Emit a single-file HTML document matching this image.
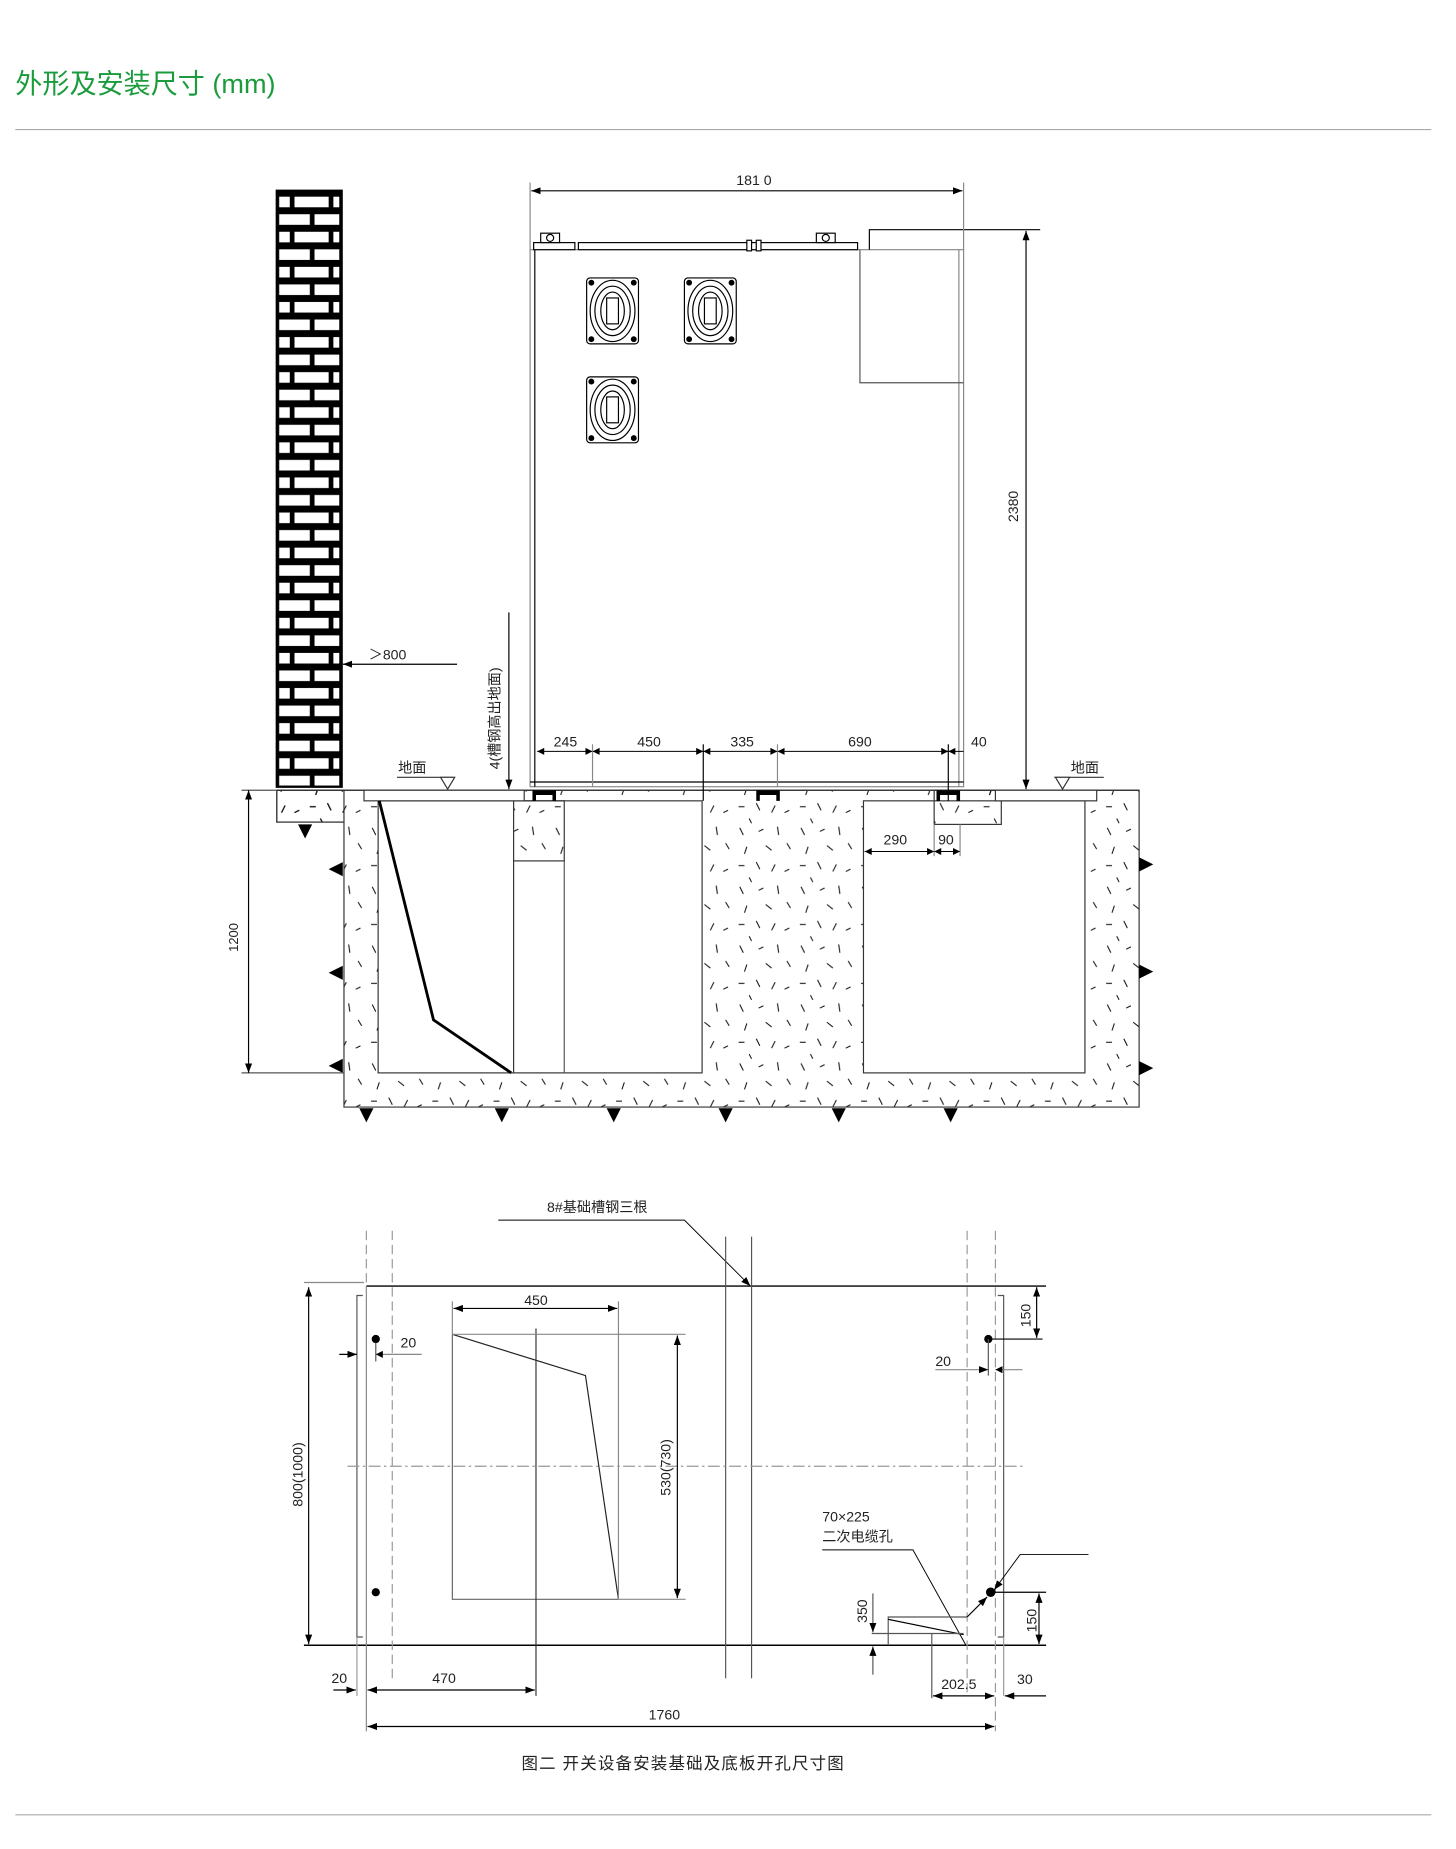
<!DOCTYPE html>
<html><head><meta charset="utf-8"><style>
html,body{margin:0;padding:0;background:#fff;}
svg{display:block;}
text{font-family:"Liberation Sans","Noto Sans CJK SC",sans-serif;fill:#222;}
</style></head><body>
<svg width="1456" height="1849" viewBox="0 0 1236 1570" preserveAspectRatio="none" xmlns="http://www.w3.org/2000/svg">
<defs>
<pattern id="brick" x="235" y="162" width="55" height="29.8" patternUnits="userSpaceOnUse">
<rect width="55" height="29.8" fill="#000"/>
<rect x="2" y="5" width="9" height="9" fill="#fff"/>
<rect x="15" y="5" width="29" height="9" fill="#fff"/>
<rect x="48" y="5" width="5" height="9" fill="#fff"/>
<rect x="2" y="19.9" width="26" height="9" fill="#fff"/>
<rect x="32" y="19.9" width="21" height="9" fill="#fff"/>
</pattern>
<pattern id="conc" x="0" y="0" width="52" height="50" patternUnits="userSpaceOnUse">
<g stroke="#111" stroke-width="0.9">
<line x1="4" y1="3" x2="7" y2="9"/><line x1="20" y1="6" x2="24" y2="4"/><line x1="36" y1="2" x2="37" y2="9"/>
<line x1="44" y1="16" x2="47" y2="21"/><line x1="10" y1="19" x2="8" y2="25"/><line x1="26" y1="18" x2="31" y2="22"/>
<line x1="3" y1="35" x2="8" y2="35"/><line x1="18" y1="32" x2="21" y2="38"/><line x1="34" y1="34" x2="31" y2="40"/>
<line x1="42" y1="40" x2="46" y2="38"/><line x1="12" y1="45" x2="14" y2="49"/>
</g></pattern>
<marker id="ar" markerWidth="8" markerHeight="6" refX="8" refY="3" orient="auto-start-reverse" markerUnits="userSpaceOnUse"><path d="M0,0 L8,3 L0,6 z" fill="#000"/></marker>
</defs>

<text x="13" y="79" font-size="23" style="fill:#1a9b3c">外形及安装尺寸 (mm)</text>
<line x1="13" y1="110" x2="1215" y2="110" stroke="#aaa" stroke-width="1"/>
<line x1="13" y1="1541" x2="1215" y2="1541" stroke="#aaa" stroke-width="1"/>

<rect x="235" y="162" width="55" height="506" fill="url(#brick)"/>
<rect x="235" y="162" width="55" height="506" fill="none" stroke="#000" stroke-width="2"/>

<path d="M235,671 H967 V940 H292 V698 H235 Z" fill="url(#conc)" stroke="#333" stroke-width="1"/>
<rect x="321" y="680" width="275" height="231" fill="#fff" stroke="#333"/>
<rect x="733" y="680" width="188" height="231" fill="#fff" stroke="#333"/>
<rect x="436" y="680" width="43" height="51" fill="url(#conc)" stroke="#333"/>
<line x1="436" y1="731" x2="436" y2="911" stroke="#333"/>
<line x1="479" y1="731" x2="479" y2="911" stroke="#555"/>
<rect x="793" y="671" width="57" height="29" fill="url(#conc)" stroke="#333"/>
<rect x="235" y="671" width="57" height="27" fill="url(#conc)" stroke="#333"/>
<line x1="235" y1="671" x2="967" y2="671" stroke="#333"/>
<rect x="309" y="671" width="136" height="9" fill="#fff" stroke="#333"/>
<rect x="845" y="671" width="86" height="9" fill="#fff" stroke="#333"/>
<polyline points="322,680 368,866 434,911" fill="none" stroke="#000" stroke-width="2.4"/>
<g fill="#000">
<path d="M452,671 h20 v9 h-3 v-5 h-14 v5 h-3z"/>
<path d="M642,671 h20 v9 h-3 v-5 h-14 v5 h-3z"/>
<path d="M795,671 h20 v9 h-3 v-5 h-14 v5 h-3z"/>
</g>
<g fill="#000">
<path d="M253,700 h12 l-6,12z"/>
<path d="M305,941 h12 l-6,12z"/><path d="M420,941 h12 l-6,12z"/><path d="M515,941 h12 l-6,12z"/>
<path d="M610,941 h12 l-6,12z"/><path d="M706,941 h12 l-6,12z"/><path d="M801,941 h12 l-6,12z"/>
<path d="M291,732 v12 l-12,-6z"/><path d="M291,820 v12 l-12,-6z"/><path d="M291,899 v12 l-12,-6z"/>
<path d="M967,728 v12 l12,-6z"/><path d="M967,819 v12 l12,-6z"/><path d="M967,901 v12 l12,-6z"/>
</g>
<line x1="337" y1="660" x2="385" y2="660" stroke="#333"/>
<path d="M374,660 h12 l-6,10z" fill="#fff" stroke="#333"/>
<text x="338" y="656" font-size="12">地面</text>
<line x1="895" y1="660" x2="937" y2="660" stroke="#333"/>
<path d="M896,660 h12 l-6,10z" fill="#fff" stroke="#333"/>
<text x="909" y="656" font-size="12">地面</text>

<line x1="205" y1="671" x2="235" y2="671" stroke="#555"/>
<line x1="205" y1="911" x2="292" y2="911" stroke="#555"/>
<line x1="211" y1="671" x2="211" y2="911" stroke="#000" marker-start="url(#ar)" marker-end="url(#ar)"/>
<text x="202" y="796" font-size="11" transform="rotate(-90 202 796)" text-anchor="middle">1200</text>

<rect x="450" y="212" width="368" height="456" fill="#fff" stroke="#888"/>
<line x1="454" y1="212" x2="454" y2="668" stroke="#000"/>
<line x1="814" y1="212" x2="814" y2="668" stroke="#888"/>
<line x1="450" y1="664" x2="818" y2="664" stroke="#000"/>
<rect x="453" y="206" width="35" height="6" fill="#fff" stroke="#000"/>
<rect x="459" y="198" width="16" height="8" fill="#fff" stroke="#000"/><circle cx="467" cy="202" r="3" fill="none" stroke="#000"/>
<rect x="491" y="206" width="237" height="6" fill="#fff" stroke="#000"/>
<rect x="693" y="198" width="16" height="8" fill="#fff" stroke="#000"/><circle cx="701" cy="202" r="3" fill="none" stroke="#000"/>
<rect x="634" y="204" width="4" height="9" fill="#fff" stroke="#000"/><rect x="642" y="204" width="4" height="9" fill="#fff" stroke="#000"/>
<polyline points="738,212 738,195 883,195" fill="none" stroke="#000"/>
<polyline points="730,212 730,325 818,325" fill="none" stroke="#555"/>
<g fill="none" stroke="#000">
<g transform="translate(498,236)"><rect width="44" height="56" rx="3"/><ellipse cx="22" cy="28" rx="19" ry="26"/><ellipse cx="22" cy="28" rx="15" ry="21"/><ellipse cx="22" cy="28" rx="10" ry="16"/><rect x="17" y="17" width="10" height="22"/><circle cx="4" cy="4" r="2" fill="#000"/><circle cx="40" cy="4" r="2" fill="#000"/><circle cx="4" cy="52" r="2" fill="#000"/><circle cx="40" cy="52" r="2" fill="#000"/></g>
<g transform="translate(581,236)"><rect width="44" height="56" rx="3"/><ellipse cx="22" cy="28" rx="19" ry="26"/><ellipse cx="22" cy="28" rx="15" ry="21"/><ellipse cx="22" cy="28" rx="10" ry="16"/><rect x="17" y="17" width="10" height="22"/><circle cx="4" cy="4" r="2" fill="#000"/><circle cx="40" cy="4" r="2" fill="#000"/><circle cx="4" cy="52" r="2" fill="#000"/><circle cx="40" cy="52" r="2" fill="#000"/></g>
<g transform="translate(498,320)"><rect width="44" height="56" rx="3"/><ellipse cx="22" cy="28" rx="19" ry="26"/><ellipse cx="22" cy="28" rx="15" ry="21"/><ellipse cx="22" cy="28" rx="10" ry="16"/><rect x="17" y="17" width="10" height="22"/><circle cx="4" cy="4" r="2" fill="#000"/><circle cx="40" cy="4" r="2" fill="#000"/><circle cx="4" cy="52" r="2" fill="#000"/><circle cx="40" cy="52" r="2" fill="#000"/></g>
</g>
<line x1="450" y1="155" x2="450" y2="212" stroke="#888"/>
<line x1="818" y1="155" x2="818" y2="212" stroke="#888"/>
<line x1="451" y1="162" x2="817" y2="162" stroke="#000" marker-start="url(#ar)" marker-end="url(#ar)"/>
<text x="640" y="157" font-size="12" text-anchor="middle">181  0</text>
<line x1="871" y1="196" x2="871" y2="670" stroke="#000" marker-start="url(#ar)" marker-end="url(#ar)"/>
<text x="864" y="430" font-size="12" transform="rotate(-90 864 430)" text-anchor="middle">2380</text>
<line x1="291" y1="564" x2="388" y2="564" stroke="#000" marker-start="url(#ar)"/>
<text x="313" y="560" font-size="12">＞800</text>
<line x1="432" y1="520" x2="432" y2="670" stroke="#000" marker-end="url(#ar)"/>
<text x="424" y="610" font-size="12" transform="rotate(-90 424 610)" text-anchor="middle">4(槽钢高出地面)</text>
<g stroke="#000">
<line x1="456" y1="638" x2="818" y2="638" stroke-width="0.8"/>
<line x1="503" y1="632" x2="503" y2="668" stroke="#888"/>
<line x1="597" y1="632" x2="597" y2="680" stroke="#000"/>
<line x1="660" y1="632" x2="660" y2="668" stroke="#888"/>
<line x1="805" y1="632" x2="805" y2="680" stroke="#000"/>
</g>
<g fill="#000">
<path d="M456,638 l6,-3 v6z"/><path d="M503,638 l-6,-3 v6z"/><path d="M503,638 l6,-3 v6z"/>
<path d="M597,638 l-6,-3 v6z"/><path d="M597,638 l6,-3 v6z"/><path d="M660,638 l-6,-3 v6z"/><path d="M660,638 l6,-3 v6z"/>
<path d="M805,638 l-6,-3 v6z"/><path d="M805,638 l6,-3 v6z"/>
</g>
<text x="480" y="634" font-size="12" text-anchor="middle">245</text>
<text x="551" y="634" font-size="12" text-anchor="middle">450</text>
<text x="630" y="634" font-size="12" text-anchor="middle">335</text>
<text x="730" y="634" font-size="12" text-anchor="middle">690</text>
<text x="831" y="634" font-size="12" text-anchor="middle">40</text>
<line x1="734" y1="723" x2="815" y2="723" stroke="#000" stroke-width="0.8"/>
<line x1="793" y1="700" x2="793" y2="727" stroke="#888"/><line x1="815" y1="700" x2="815" y2="727" stroke="#888"/>
<g fill="#000"><path d="M734,723 l6,-3 v6z"/><path d="M793,723 l-6,-3 v6z"/><path d="M793,723 l6,-3 v6z"/><path d="M815,723 l-6,-3 v6z"/></g>
<text x="760" y="717" font-size="12" text-anchor="middle">290</text>
<text x="803" y="717" font-size="12" text-anchor="middle">90</text>

<text x="507" y="1029" font-size="12" text-anchor="middle">8#基础槽钢三根</text>
<polyline points="423,1036 581,1036 637,1092" fill="none" stroke="#000" stroke-width="0.8" marker-end="url(#ar)"/>
<line x1="311" y1="1092" x2="888" y2="1092" stroke="#000" stroke-width="1.2"/>
<line x1="258" y1="1397" x2="888" y2="1397" stroke="#000" stroke-width="1.2"/>
<line x1="258" y1="1089" x2="309" y2="1089" stroke="#888"/>
<line x1="311" y1="1092" x2="311" y2="1470" stroke="#888"/>
<line x1="311" y1="1045" x2="311" y2="1092" stroke="#999" stroke-dasharray="8,4"/>
<polyline points="308,1100 303,1100 303,1390 308,1390" fill="none" stroke="#555"/>
<line x1="303" y1="1390" x2="303" y2="1440" stroke="#999"/>
<line x1="333" y1="1045" x2="333" y2="1425" stroke="#999" stroke-dasharray="8,4"/>
<line x1="821" y1="1045" x2="821" y2="1440" stroke="#999" stroke-dasharray="8,4"/>
<line x1="845" y1="1045" x2="845" y2="1470" stroke="#999" stroke-dasharray="8,4"/>
<polyline points="847,1100 852,1100 852,1390 847,1390" fill="none" stroke="#555"/>
<line x1="852" y1="1390" x2="852" y2="1440" stroke="#999"/>
<line x1="616" y1="1050" x2="616" y2="1425" stroke="#555"/>
<line x1="638" y1="1050" x2="638" y2="1425" stroke="#555"/>
<line x1="295" y1="1245" x2="870" y2="1245" stroke="#999" stroke-dasharray="10,3,2,3"/>
<path d="M384,1133 V1358 H525" fill="none" stroke="#666"/>
<polyline points="384,1133 497,1168 525,1358" fill="none" stroke="#222"/>
<line x1="455" y1="1128" x2="455" y2="1440" stroke="#333"/>
<line x1="384" y1="1105" x2="384" y2="1133" stroke="#888"/><line x1="525" y1="1105" x2="525" y2="1358" stroke="#888"/>
<line x1="385" y1="1111" x2="524" y2="1111" stroke="#000" marker-start="url(#ar)" marker-end="url(#ar)"/>
<text x="455" y="1108" font-size="12" text-anchor="middle">450</text>
<line x1="384" y1="1133" x2="582" y2="1133" stroke="#888"/><line x1="525" y1="1358" x2="582" y2="1358" stroke="#888"/>
<line x1="575" y1="1134" x2="575" y2="1357" stroke="#000" marker-start="url(#ar)" marker-end="url(#ar)"/>
<text x="569" y="1246" font-size="12" transform="rotate(-90 569 1246)" text-anchor="middle">530(730)</text>
<circle cx="319" cy="1137" r="3.5" fill="#000"/><circle cx="319" cy="1352" r="3.5" fill="#000"/>
<circle cx="839" cy="1137" r="3.5" fill="#000"/><circle cx="841" cy="1352" r="4" fill="#000"/>
<line x1="262" y1="1093" x2="262" y2="1396" stroke="#000" marker-start="url(#ar)" marker-end="url(#ar)"/>
<text x="257" y="1252" font-size="12" transform="rotate(-90 257 1252)" text-anchor="middle">800(1000)</text>
<line x1="288" y1="1150" x2="303" y2="1150" stroke="#000" marker-end="url(#ar)"/>
<line x1="319" y1="1150" x2="358" y2="1150" stroke="#888"/>
<path d="M319,1150 l6,-3 v6z" fill="#000"/>
<line x1="319" y1="1140" x2="319" y2="1156" stroke="#555"/>
<text x="340" y="1144" font-size="12">20</text>
<line x1="794" y1="1163" x2="839" y2="1163" stroke="#888" marker-end="url(#ar)"/>
<line x1="845" y1="1163" x2="868" y2="1163" stroke="#888"/>
<path d="M845,1163 l6,-3 v6z" fill="#000"/>
<line x1="839" y1="1137" x2="839" y2="1168" stroke="#555"/>
<text x="794" y="1160" font-size="12">20</text>
<line x1="840" y1="1137" x2="885" y2="1137" stroke="#000"/>
<line x1="880" y1="1093" x2="880" y2="1136" stroke="#000" marker-start="url(#ar)" marker-end="url(#ar)"/>
<text x="875" y="1117" font-size="12" transform="rotate(-90 875 1117)" text-anchor="middle">150</text>
<line x1="842" y1="1352" x2="888" y2="1352" stroke="#000"/>
<line x1="882" y1="1353" x2="882" y2="1396" stroke="#000" marker-start="url(#ar)" marker-end="url(#ar)"/>
<text x="880" y="1376" font-size="12" transform="rotate(-90 880 1376)" text-anchor="middle">150</text>
<text x="698" y="1292" font-size="12">70×225</text>
<text x="698" y="1309" font-size="12">二次电缆孔</text>
<polyline points="698,1316 775,1316 820,1397" fill="none" stroke="#000" stroke-width="0.8"/>
<polyline points="754,1397 754,1373 821,1373" fill="none" stroke="#555"/>
<line x1="754" y1="1375" x2="818" y2="1388" stroke="#000"/>
<line x1="740" y1="1387" x2="818" y2="1387" stroke="#555"/>
<line x1="791" y1="1387" x2="791" y2="1442" stroke="#555"/>
<line x1="741" y1="1353" x2="741" y2="1386" stroke="#555" marker-end="url(#ar)"/>
<line x1="741" y1="1422" x2="741" y2="1398" stroke="#555" marker-end="url(#ar)"/>
<text x="736" y="1368" font-size="12" transform="rotate(-90 736 1368)" text-anchor="middle">350</text>
<line x1="821" y1="1373" x2="838" y2="1356" stroke="#000" marker-end="url(#ar)"/>
<polyline points="924,1320 866,1320 844,1350" fill="none" stroke="#000" stroke-width="0.8" marker-end="url(#ar)"/>
<line x1="283" y1="1435" x2="302" y2="1435" stroke="#000" marker-end="url(#ar)"/>
<line x1="312" y1="1435" x2="454" y2="1435" stroke="#000" marker-start="url(#ar)" marker-end="url(#ar)"/>
<text x="288" y="1429" font-size="12" text-anchor="middle">20</text>
<text x="377" y="1429" font-size="12" text-anchor="middle">470</text>
<line x1="792" y1="1440" x2="844" y2="1440" stroke="#000" marker-start="url(#ar)" marker-end="url(#ar)"/>
<line x1="853" y1="1440" x2="888" y2="1440" stroke="#000" marker-start="url(#ar)"/>
<text x="814" y="1434" font-size="12" text-anchor="middle">202.5</text>
<text x="870" y="1430" font-size="12" text-anchor="middle">30</text>
<line x1="312" y1="1466" x2="844" y2="1466" stroke="#000" marker-start="url(#ar)" marker-end="url(#ar)"/>
<text x="564" y="1460" font-size="12" text-anchor="middle">1760</text>
<text x="580" y="1502" font-size="14" text-anchor="middle" letter-spacing="1">图二 开关设备安装基础及底板开孔尺寸图</text>
</svg>
</body></html>
